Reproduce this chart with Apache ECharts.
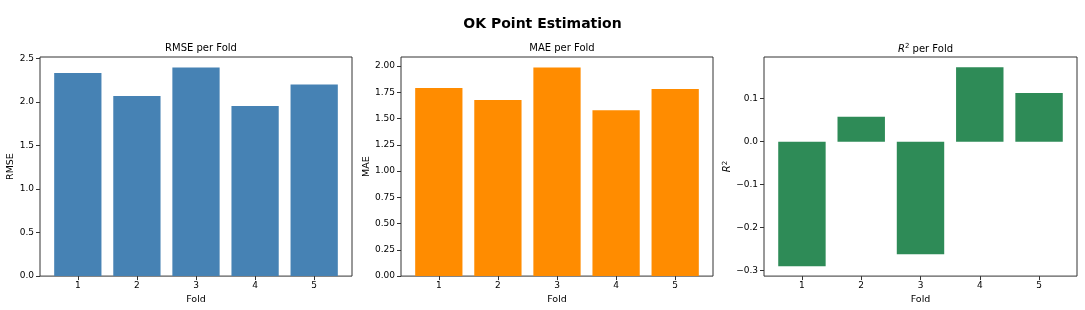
<!DOCTYPE html>
<html>
<head>
<meta charset="utf-8">
<script src="https://cdn.jsdelivr.net/npm/echarts@6/dist/echarts.min.js"></script>
<style>
html,body{margin:0;padding:0;background:#fff;}
#c{width:1085px;height:310px;}
</style>
</head>
<body>
<div id="c"></div>
<script>
// ---- data ----
var folds = [1, 2, 3, 4, 5];
var rmseValues = [2.332, 2.069, 2.397, 1.954, 2.202];
var maeValues = [1.791, 1.677, 1.987, 1.579, 1.782];
var r2Values = [-0.290, 0.058, -0.262, 0.173, 0.113];
var rmseTicks = [0, 0.5, 1.0, 1.5, 2.0, 2.5];
var maeTicks = [0, 0.25, 0.5, 0.75, 1.0, 1.25, 1.5, 1.75, 2.0];
var r2Ticks = [-0.3, -0.2, -0.1, 0, 0.1];

var FONT = 'DejaVu Sans';
var AX = '#333';

function fmt(d) {
  return function (v) { return v.toFixed(d).replace('-', '\u2212'); };
}
function pairs(vals) {
  return folds.map(function (f, i) { return [f, vals[i]]; });
}

var grids = [
  {left: 40, top: 57, width: 312, height: 220},
  {left: 401, top: 57, width: 312, height: 220},
  {left: 764, top: 57, width: 313, height: 220}
];

var panels = [
  {title: 'RMSE per Fold', yname: 'RMSE', vals: rmseValues, ticks: rmseTicks, min: 0, max: 2.517, dec: 1, color: '#4682B4', gap: 23},
  {title: 'MAE per Fold', yname: 'MAE', vals: maeValues, ticks: maeTicks, min: 0, max: 2.086, dec: 2, color: '#FF8C00', gap: 24},
  {title: '{i|R}{s|2} per Fold', yname: '{i|R}{s|2}', vals: r2Values, ticks: r2Ticks, min: -0.313, max: 0.197, dec: 1, color: '#2E8B57', gap: 29}
];

var rich = {
  i: {fontStyle: 'italic', fontFamily: FONT, fontSize: 10, color: '#000'},
  s: {fontFamily: FONT, fontSize: 7, color: '#000', verticalAlign: 'top', padding: [0, 0, 5, 0]}
};

var option = {
  backgroundColor: '#fff',
  animation: false,
  title: [{
    text: 'OK Point Estimation', left: 'center', top: 12,
    textStyle: {fontFamily: FONT, fontWeight: 'bold', fontSize: 14, color: '#000'}
  }],
  grid: [],
  xAxis: [],
  yAxis: [],
  series: []
};

panels.forEach(function (p, k) {
  var g = grids[k];
  option.grid.push({left: g.left, top: g.top, width: g.width, height: g.height,
    show: true, borderColor: AX, borderWidth: 1, backgroundColor: 'transparent', containLabel: false});
  option.title.push({
    text: p.title, left: g.left + g.width / 2, top: 38, textAlign: 'center',
    textStyle: {fontFamily: FONT, fontWeight: 'normal', fontSize: 10, color: '#000', rich: {
      i: {fontStyle: 'italic', fontFamily: FONT, fontSize: 10, color: '#000'},
      s: {fontFamily: FONT, fontSize: 7, color: '#000', padding: [0, 0, 5, 0]}
    }}
  });
  option.xAxis.push({
    type: 'value', gridIndex: k, min: 0.36, max: 5.64,
    name: 'Fold', nameLocation: 'middle', nameGap: 15,
    nameTextStyle: {fontFamily: FONT, fontSize: 9.5, color: '#000'},
    axisLine: {show: false, onZero: false},
    axisTick: {show: true, length: 4, lineStyle: {color: AX}, customValues: folds},
    axisLabel: {show: true, margin: 5, fontFamily: FONT, fontSize: 9, color: '#000', customValues: folds,
      formatter: function (v) { return String(v); }},
    splitLine: {show: false}
  });
  option.yAxis.push({
    type: 'value', gridIndex: k, min: p.min, max: p.max,
    name: p.yname, nameLocation: 'middle', nameGap: p.gap,
    nameTextStyle: {fontFamily: FONT, fontSize: 9.5, color: '#000', rich: rich},
    axisLine: {show: false, onZero: false},
    axisTick: {show: true, length: 4, lineStyle: {color: AX}, customValues: p.ticks},
    axisLabel: {show: true, margin: 6, fontFamily: FONT, fontSize: 9, color: '#000', customValues: p.ticks,
      formatter: fmt(p.dec)},
    splitLine: {show: false}
  });
  option.series.push({
    type: 'bar', xAxisIndex: k, yAxisIndex: k,
    data: pairs(p.vals), barWidth: '80%',
    itemStyle: {color: p.color}
  });
});

var chart = echarts.init(document.getElementById('c'), null, {renderer: 'canvas'});
chart.setOption(option);
</script>
</body>
</html>
